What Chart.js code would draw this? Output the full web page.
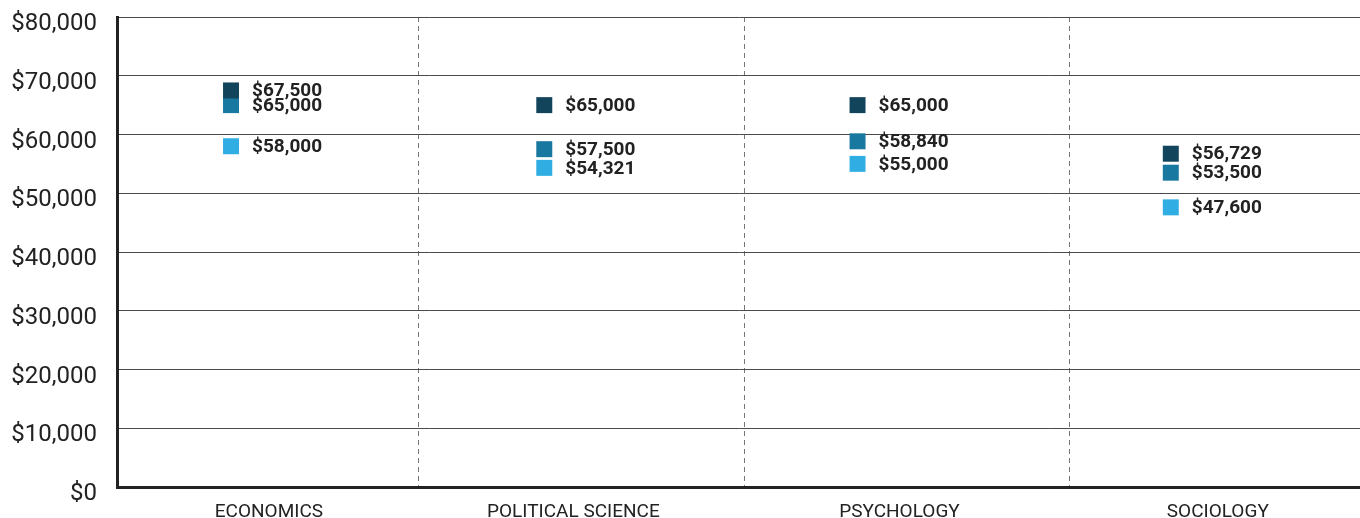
<!DOCTYPE html>
<html>
<head>
<meta charset="utf-8">
<script src="https://cdn.jsdelivr.net/npm/chart.js@4.4.1/dist/chart.umd.min.js"></script>
<style>
  html, body { margin: 0; padding: 0; background: #fff; overflow: hidden; }
  #wrap { width: 1360px; height: 518px; }
</style>
</head>
<body>
<div id="wrap"><canvas id="myChart" width="1360" height="518"></canvas></div>
<script>
const categories = ['ECONOMICS', 'POLITICAL SCIENCE', 'PSYCHOLOGY', 'SOCIOLOGY']
const seriesDark = [67500, 65000, 65000, 56729]
const seriesMid = [65000, 57500, 58840, 53500]
const seriesLight = [58000, 54321, 55000, 47600]
const yTicks = [0, 10000, 20000, 30000, 40000, 50000, 60000, 70000, 80000]

function money(v) {
    return '$' + v.toLocaleString('en-US')
}

function toPoints(arr) {
    return arr.map(function(v, i) { return { x: i, y: v } })
}

// where the category names and the dashed dividers sit on the x scale
const labelAt = [0.121, 1.093, 2.134, 3.150]
const dividerAt = [0.600, 1.638, 2.676]

// draws "$xx,xxx" to the right of every square
const valueLabels = {
    id: 'valueLabels',
    afterDatasetsDraw(chart) {
        const ctx = chart.ctx
        ctx.save()
        ctx.font = 'bold 19px Roboto'
        ctx.fillStyle = '#222'
        ctx.textBaseline = 'middle'
        ctx.textAlign = 'left'
        chart.data.datasets.forEach(function(ds, di) {
            const meta = chart.getDatasetMeta(di)
            meta.data.forEach(function(pt, i) {
                ctx.fillText(money(ds.data[i].y), pt.x + 21, pt.y + 1)
            })
        })
        ctx.restore()
    }
}

const ctx = document.getElementById('myChart').getContext('2d')
const myChart = new Chart(ctx, {
    type: 'line',
    data: {
        datasets: [
            { data: toPoints(seriesDark), backgroundColor: '#12455c', borderColor: '#12455c' },
            { data: toPoints(seriesMid), backgroundColor: '#1878a0', borderColor: '#1878a0' },
            { data: toPoints(seriesLight), backgroundColor: '#30aee4', borderColor: '#30aee4' }
        ].map(function(d) {
            return Object.assign(d, {
                showLine: false,
                pointStyle: 'rect',
                pointRadius: 11.3,
                pointBorderWidth: 0,
                pointHoverRadius: 11.3
            })
        })
    },
    options: {
        responsive: false,
        animation: false,
        layout: { autoPadding: false, padding: { top: 17, right: 0, left: 0, bottom: 0 } },
        plugins: {
            legend: { display: false },
            tooltip: { enabled: false }
        },
        scales: {
            x: {
                type: 'linear',
                min: -0.364,
                max: 3.604,
                afterBuildTicks: function(axis) {
                    const t = []
                    labelAt.forEach(function(v, i) {
                        t.push({ value: v })
                        if (i < dividerAt.length) t.push({ value: dividerAt[i] })
                    })
                    axis.ticks = t
                },
                afterFit: function(axis) {
                    axis.paddingLeft = 0
                    axis.paddingRight = 0
                    axis.height = 31
                },
                grid: {
                    color: function(c) { return c.index % 2 === 1 ? '#777' : 'rgba(0,0,0,0)' },
                    lineWidth: 1,
                    drawTicks: false
                },
                border: { display: true, color: '#222', width: 3, dash: [5, 4] },
                ticks: {
                    color: '#222',
                    font: { family: 'Roboto', size: 19 },
                    padding: 14,
                    autoSkip: false,
                    maxRotation: 0,
                    callback: function(v, i) { return i % 2 === 0 ? categories[i / 2] : '' }
                }
            },
            y: {
                min: 0,
                max: 80000,
                afterBuildTicks: function(axis) {
                    axis.ticks = yTicks.map(function(v) { return { value: v } })
                },
                afterFit: function(axis) {
                    axis.paddingTop = 0
                    axis.paddingBottom = 0
                    axis.width = 117
                },
                grid: {
                    color: '#4a4a4a',
                    lineWidth: 1,
                    drawTicks: false
                },
                border: { display: true, color: '#222', width: 3 },
                ticks: {
                    color: '#222',
                    font: { family: 'Roboto', size: 24 },
                    padding: 20,
                    labelOffset: 7,
                    callback: function(v) { return money(v) }
                }
            }
        }
    },
    plugins: [valueLabels]
})
</script>
</body>
</html>
